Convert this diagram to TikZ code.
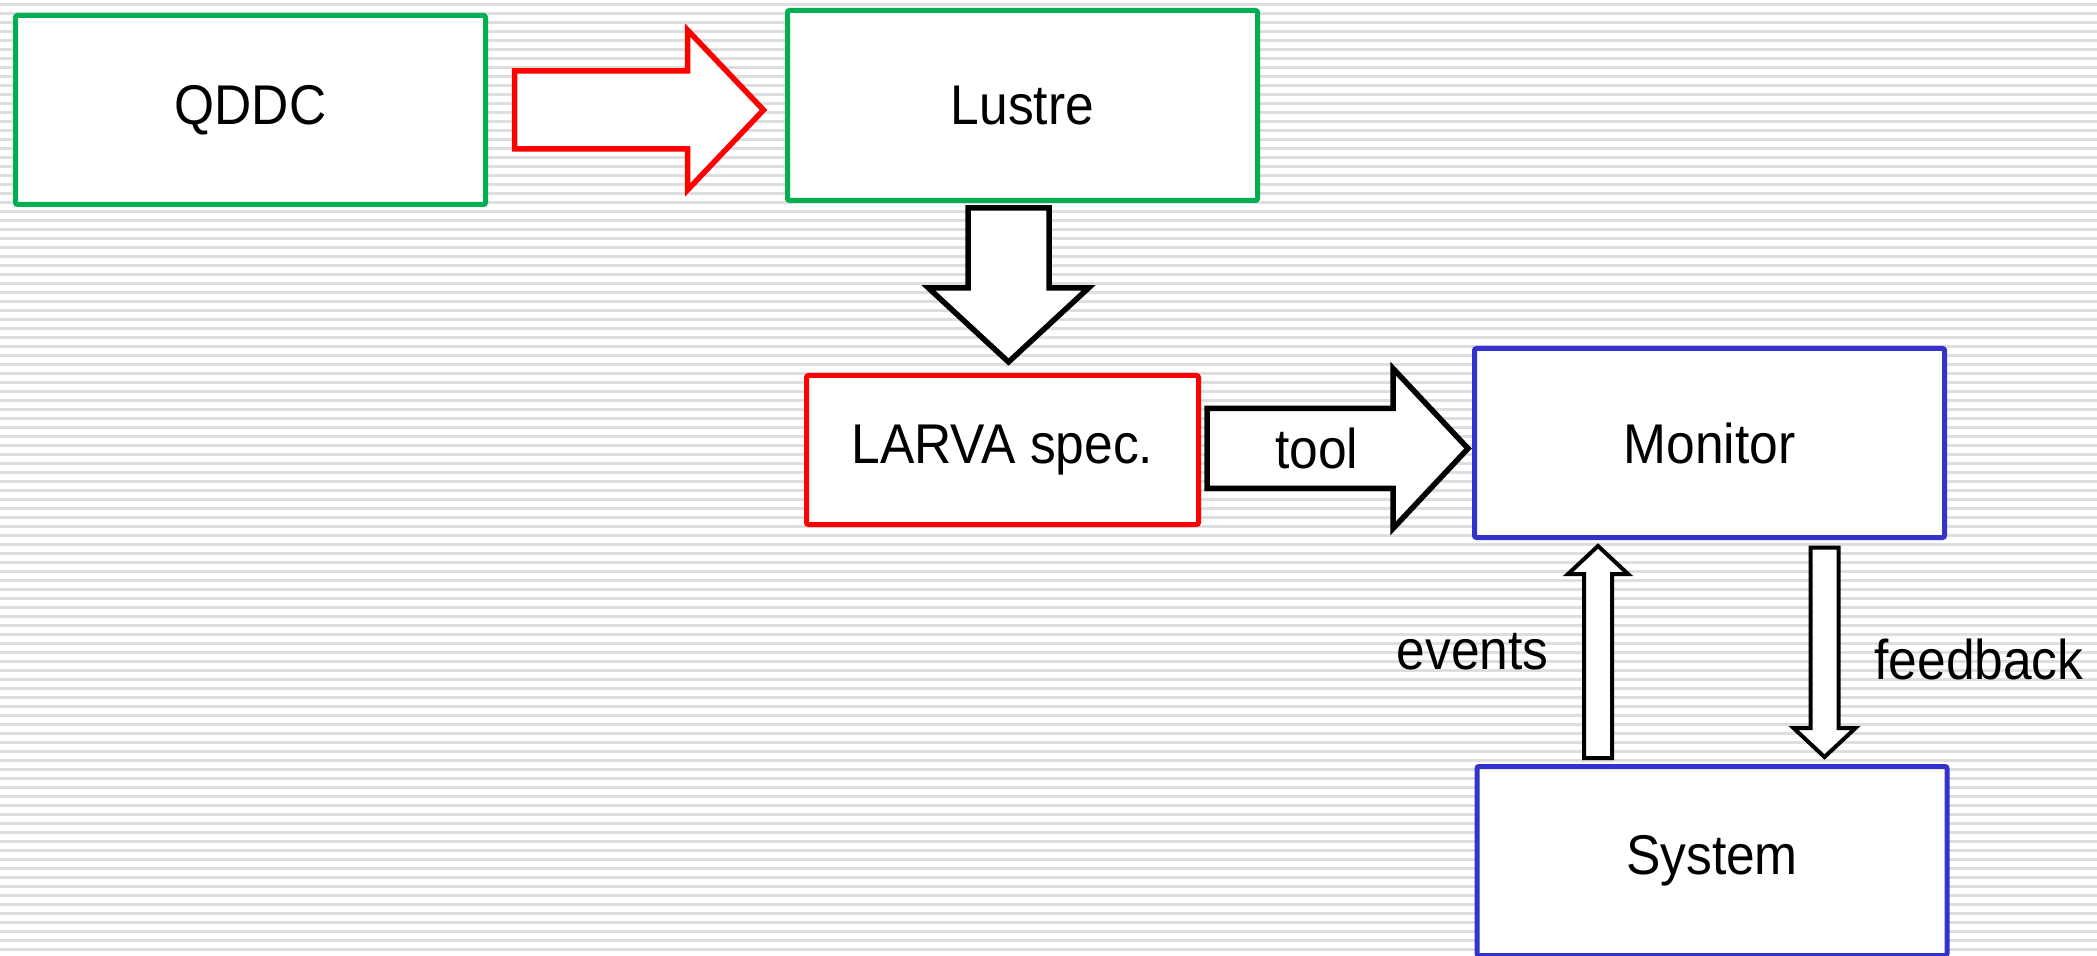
\documentclass[tikz,border=0pt]{standalone}
\usepackage{fontspec}
\setmainfont{Liberation Sans}[FakeStretch=0.92]
\usetikzlibrary{calc}

\definecolor{qgreen}{RGB}{0,176,80}
\definecolor{qred}{RGB}{255,0,0}
\definecolor{qblue}{RGB}{51,51,204}
\definecolor{stripegray}{RGB}{222,222,222}

\tikzset{
  blk/.style={draw=#1, fill=white, line width=2.5pt, rounded corners=1pt,
    minimum width=235pt, minimum height=94.5pt, inner sep=0pt,
    font=\fontsize{28}{32}\selectfont},
  fat/.style={draw=black, fill=white, line width=2.75pt, line join=miter},
  thin fat/.style={fat, line width=2pt},
  lbl/.style={font=\fontsize{28}{32}\selectfont, inner sep=0pt},
  stripe/.style={draw=stripegray, line width=1.25pt},
}

% #1 style, #2 tail, #3 tip, #4 half shaft, #5 half head, #6 head length
\newcommand{\fatarrow}[6]{%
  \coordinate (fa-h) at ($(#3)!#6!(#2)$);
  \draw[#1] ($(#2)!#4!90:(#3)$) -- ($(fa-h)!#4!90:(#3)$)
    -- ($(fa-h)!#5!90:(#3)$) -- (#3)
    -- ($(fa-h)!#5!-90:(#3)$) -- ($(fa-h)!#4!-90:(#3)$)
    -- ($(#2)!#4!-90:(#3)$) -- cycle;}

\begin{document}
\begin{tikzpicture}[x=0.5pt,y=-0.5pt]
  \useasboundingbox (0,0) rectangle (2097,956);
  \fill[white] (0,0) rectangle (2097,956);
  %background lines
  \foreach \y in {4.5,13.5,...,956}
    \draw[stripe] (0,\y) -- (2097,\y);

  %boxes
  \node[blk=qgreen] (qddc) at (250.5,110) {QDDC};
  \node[blk=qgreen, minimum height=95pt] (lustre) at (1022.5,105.5) {Lustre};
  \node[blk=qred, minimum width=196pt, minimum height=74.5pt] (larva) at (1002.5,450) {LARVA spec.};
  \node[blk=qblue] (monitor) at (1709.5,443) {Monitor};
  \node[blk=qblue] (system) at (1712,861) {System};

  %QDDC to Lustre
  \coordinate (qs) at ($(qddc.east)+(26.5,0)$);
  \coordinate (qe) at ($(qddc.east -| lustre.west)+(-21.5,0)$);
  \fatarrow{fat, draw=qred}{qs}{qe}{19.5pt}{40pt}{38pt}

  %Lustre to LARVA
  \coordinate (ls) at ($(lustre.south)+(-14,5)$);
  \coordinate (le) at ($(ls |- larva.north)+(0,-11)$);
  \fatarrow{fat}{ls}{le}{20.25pt}{40pt}{37pt}

  %tool
  \coordinate (ts) at ($(larva.east)+(6,-1.5)$);
  \coordinate (te) at ($(ts -| monitor.west)+(-4,0)$);
  \fatarrow{fat}{ts}{te}{20pt}{40pt}{37.5pt}
  \node[lbl] (tool) at ($(ts)!0.42!(te)$) {tool};

  %events
  \coordinate (es) at ($(system.north)+(-114,-6)$);
  \coordinate (ee) at ($(es |- monitor.south)+(0,6)$);
  \fatarrow{thin fat}{es}{ee}{7pt}{15pt}{14pt}
  \node[lbl, anchor=east] (events) at ($(es)!0.5!(ee)+(-49,0)$) {events};

  %feedback
  \coordinate (fs) at ($(monitor.south)+(115,7.5)$);
  \coordinate (fe) at ($(fs |- system.north)+(0,-7)$);
  \fatarrow{thin fat}{fs}{fe}{7pt}{15.5pt}{14.5pt}
  \node[lbl, anchor=west] (feedback) at ($(fs)!0.5!(fe)+(49.5,7)$) {feedback};
\end{tikzpicture}
\end{document}
